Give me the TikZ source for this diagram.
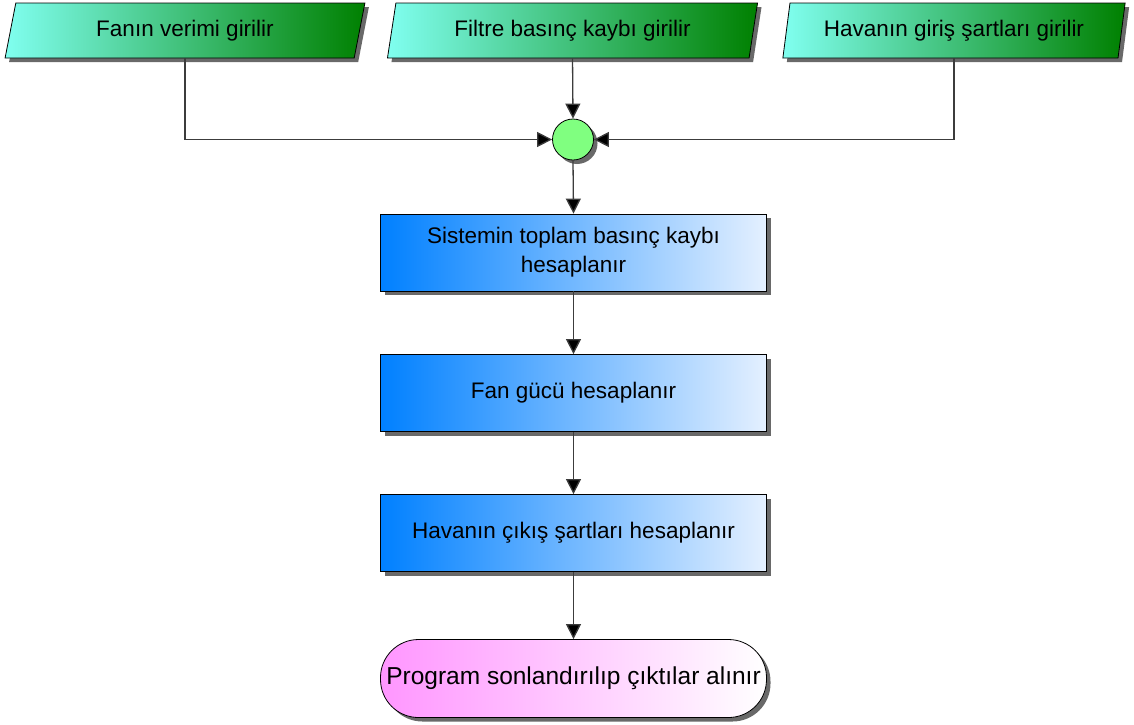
\documentclass[tikz,border=0pt]{standalone}
\usepackage{fontspec}
\setmainfont{Liberation Sans}
\usetikzlibrary{shapes.geometric,shadows,arrows.meta}
\definecolor{incyan}{RGB}{128,255,240}
\definecolor{ingreen}{RGB}{0,128,0}
\definecolor{pblue}{RGB}{0,128,255}
\definecolor{pwhite}{RGB}{228,240,255}
\definecolor{jgreen}{RGB}{128,255,128}
\definecolor{epink}{RGB}{255,150,255}
\definecolor{linegray}{RGB}{60,60,60}
\tikzset{
  shadowed/.style={drop shadow={shadow xshift=4pt,shadow yshift=-4pt,fill=black!65,opacity=0.9}},
  inbox/.style={trapezium,trapezium left angle=75,trapezium right angle=105,
    trapezium stretches=true,minimum height=55pt,draw=black,line width=0.8pt,
    left color=incyan,right color=ingreen,shadowed,
    font=\fontsize{22.5}{27}\selectfont,inner sep=0pt},
  procbox/.style={rectangle,draw=black,line width=0.8pt,minimum width=386pt,minimum height=77pt,
    left color=pblue,right color=pwhite,shadowed,align=center,
    font=\fontsize{22.5}{29}\selectfont,inner sep=0pt},
  endbox/.style={rectangle,rounded corners=38pt,draw=black,line width=0.8pt,minimum width=386pt,minimum height=78pt,
    left color=epink,right color=white,shadowed,
    font=\fontsize{24.5}{29}\selectfont,inner sep=0pt},
  junction/.style={circle,draw=black,line width=0.8pt,fill=jgreen,minimum size=41pt,inner sep=0pt,shadowed},
  conn/.style={draw=linegray,line width=1.3pt,-{Triangle[length=15pt,width=15pt,fill=black]}},
  plain/.style={draw=linegray,line width=1.3pt}
}
\begin{document}
\begin{tikzpicture}[x=1pt,y=-1pt]
\useasboundingbox (0,0) rectangle (1134,724);
\node[inbox,minimum width=360pt] (p1) at (185,30.5) {\raisebox{-1pt}{Fanın verimi girilir}};
\node[inbox,minimum width=371pt] (p2) at (572.5,30.5) {\raisebox{-1pt}{Filtre basınç kaybı girilir}};
\node[inbox,minimum width=343pt] (p3) at (954,30.5) {\raisebox{-1pt}{Havanın giriş şartları girilir}};
\node[junction] (j) at (573,139.5) {};
\node[procbox] (b1) at (573.5,252.5) {Sistemin toplam basınç kaybı\\hesaplanır};
\node[procbox] (b2) at (573.5,393) {Fan gücü hesaplanır};
\node[procbox] (b3) at (573.5,533) {Havanın çıkış şartları hesaplanır};
\node[endbox] (e) at (573.5,678.5) {Program sonlandırılıp çıktılar alınır};
\draw[conn] (p1.south) |- (j.west);
\draw[conn] (p2.south) -- (j.north);
\draw[conn] (p3.south) |- (j.east);
\draw[conn] (j.south) -- (b1.north);
\draw[conn] (b1.south) -- (b2.north);
\draw[conn] (b2.south) -- (b3.north);
\draw[conn] (b3.south) -- (e.north);
\end{tikzpicture}
\end{document}
